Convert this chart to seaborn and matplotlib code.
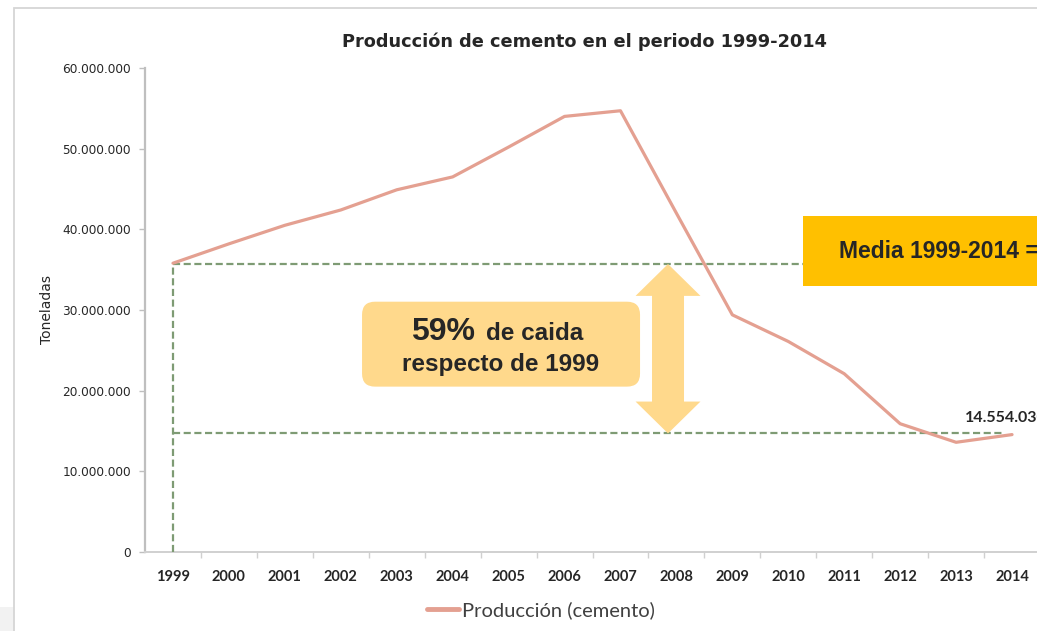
import matplotlib
matplotlib.use("Agg")
import matplotlib.pyplot as plt
import matplotlib.patches as mpatches
import matplotlib.transforms as mtransforms
import matplotlib.ticker as mticker
import seaborn as sns
import pandas as pd

# ---- data ----
years = [1999, 2000, 2001, 2002, 2003, 2004, 2005, 2006, 2007,
         2008, 2009, 2010, 2011, 2012, 2013, 2014]
production = [35.8e6, 38.2e6, 40.5e6, 42.4e6, 44.9e6, 46.5e6, 50.2e6, 54.0e6,
              54.7e6, 42.0e6, 29.4e6, 26.1e6, 22.1e6, 15.9e6, 13.6e6, 14554030]
series_name = "Producción (cemento)"
title = "Producción de cemento en el periodo 1999-2014"
ylabel = "Toneladas"
yticks = [0, 10e6, 20e6, 30e6, 40e6, 50e6, 60e6]
level_1999 = 35.7e6
level_low = 14.7e6
drop_line1 = "59%"
drop_line1b = "de caida"
drop_line2 = "respecto de 1999"
media_text = "Media 1999-2014 ="

df = pd.DataFrame({"year": years, "tons": production})

W, H = 1037, 631
sns.set_style("white")
plt.rcParams["font.family"] = ["DejaVu Sans"]

fig = plt.figure(figsize=(W / 100, H / 100), dpi=100)
fig.patch.set_facecolor("white")

# outer frame + shadow
fig.patches.append(mpatches.Rectangle((0, 0), 14 / W, 24 / H, transform=fig.transFigure,
                                      facecolor="#F2F2F2", edgecolor="none", zorder=0))
fig.patches.append(mpatches.Rectangle((14 / W, -0.5), 2.0, 1 - 8 / H + 0.5,
                                      transform=fig.transFigure, fill=False,
                                      edgecolor="#D6D6D6", linewidth=1.3, zorder=1))

ax = fig.add_axes([145 / W, 1 - 552 / H, (1040 - 145) / W, (552 - 68) / H])
ax.set_facecolor("none")

line_color = "#E4A091"
dash_color = "#7E9B74"

sns.lineplot(data=df, x="year", y="tons", ax=ax, color=line_color, linewidth=2.3,
             label=series_name, zorder=5)

ax.set_xlim(years[0] - 0.5, years[-1] + 0.5)
ax.set_ylim(yticks[0], yticks[-1])
ax.set_yticks(yticks)
ax.yaxis.set_major_formatter(mticker.FuncFormatter(
    lambda v, p: f"{int(round(v)):,}".replace(",", ".")))
ax.set_xticks(years)
ax.set_xticklabels([str(y) for y in years])
ax.set_xticks([y + 0.5 for y in years[:-1]], minor=True)

ax.set_xlabel("")
ax.set_ylabel(ylabel, fontsize=10, color="#262626", labelpad=6)

for s in ["top", "right"]:
    ax.spines[s].set_visible(False)
ax.spines["left"].set_color("#BFBFBF")
ax.spines["left"].set_linewidth(1.6)
ax.spines["bottom"].set_color("#D0D0D0")
ax.spines["bottom"].set_linewidth(1.4)

ax.tick_params(axis="y", which="major", length=4, width=1, color="#BFBFBF",
               pad=6, labelsize=8.7, labelcolor="#262626", left=True)
ax.tick_params(axis="x", which="major", length=0, pad=13, labelsize=10.5,
               labelcolor="#262626", bottom=False)
ax.tick_params(axis="x", which="minor", length=4, width=1, color="#D0D0D0",
               bottom=True, direction="out")
for lab in ax.get_xticklabels():
    lab.set_fontfamily(["Lato", "DejaVu Sans"])
    lab.set_fontweight("bold")

# dashed reference lines
dash_kw = dict(color=dash_color, linewidth=1.6, linestyle=(0, (3.2, 1.6)), zorder=3)
ax.plot([years[0], years[-1] + 1.0], [level_1999, level_1999], clip_on=False, **dash_kw)
ax.plot([years[0], years[-1] - 0.18], [level_low, level_low], **dash_kw)
ax.plot([years[0], years[0]], [0, level_1999], **dash_kw)

# double arrow
arrow_color = "#FFD98C"
ax_c = years[0] + 8.85
hw, sw = 0.58, 0.286
hl = 3.95e6
top, bot = level_1999, level_low
poly = [(ax_c, top), (ax_c + hw, top - hl), (ax_c + sw, top - hl), (ax_c + sw, bot + hl),
        (ax_c + hw, bot + hl), (ax_c, bot), (ax_c - hw, bot + hl), (ax_c - sw, bot + hl),
        (ax_c - sw, top - hl), (ax_c - hw, top - hl)]
ax.add_patch(mpatches.Polygon(poly, closed=True, facecolor=arrow_color,
                              edgecolor="none", zorder=4))

# rounded box in pixel space (anchored to data)
fig.canvas.draw()
(x0, y0) = ax.transData.transform((2002.38, 20.5e6))
(x1, y1) = ax.transData.transform((2007.35, 31.03e6))
box = mpatches.FancyBboxPatch((x0, y0), x1 - x0, y1 - y0,
                              boxstyle="round,pad=0,rounding_size=13",
                              transform=mtransforms.IdentityTransform(),
                              facecolor=arrow_color, edgecolor="none", zorder=6)
fig.patches.append(box)
cx = (x0 + x1) / 2
bold_font = ["Liberation Sans", "DejaVu Sans"]
ident = mtransforms.IdentityTransform()
line1_y = H - 340
fig.text(cx - 90, line1_y, drop_line1, transform=ident,
         fontsize=23, fontweight="bold", color="#262626", family=bold_font,
         ha="left", va="baseline", zorder=7)
fig.text(cx - 15, line1_y, drop_line1b, transform=ident,
         fontsize=17.5, fontweight="bold", color="#262626", family=bold_font,
         ha="left", va="baseline", zorder=7)
fig.text(cx, H - 371.5, drop_line2, transform=ident,
         fontsize=17.5, fontweight="bold", color="#262626", family=bold_font,
         ha="center", va="baseline", zorder=7)

# media box (runs off the right edge)
ax.add_patch(mpatches.Rectangle((2010.26, 32.97e6), 10, 41.69e6 - 32.97e6,
                                facecolor="#FFC000", edgecolor="none", zorder=6,
                                clip_on=False))
ax.text(2010.9, 37.2e6, media_text, fontsize=16.5, fontweight="bold", color="#262626",
        family=bold_font, ha="left", va="center", zorder=7, clip_on=False)

# last value label (runs off the right edge, as in the original)
last_label = f"{production[-1]:,}".replace(",", ".")
ax.text(2013.16, 16.15e6, last_label, fontsize=11.5, fontweight="bold", color="#262626",
        family=["Lato", "DejaVu Sans"], ha="left", va="baseline", zorder=7, clip_on=False)

# title
fig.text(585 / W, 1 - 42 / H, title, fontsize=12.8, fontweight="bold", color="#262626",
         ha="center", va="center")

# legend
ax.get_legend().remove()
h = plt.Line2D([], [], color=line_color, linewidth=3.5)
leg = fig.legend([h], [series_name], loc="center", bbox_to_anchor=(541 / W, 1 - 610 / H),
                 frameon=False, handlelength=1.55, handletextpad=0.15,
                 prop={"family": ["Lato", "DejaVu Sans"], "size": 14.5})
for t in leg.get_texts():
    t.set_color("#404040")

fig.savefig("out.png", dpi=100)
